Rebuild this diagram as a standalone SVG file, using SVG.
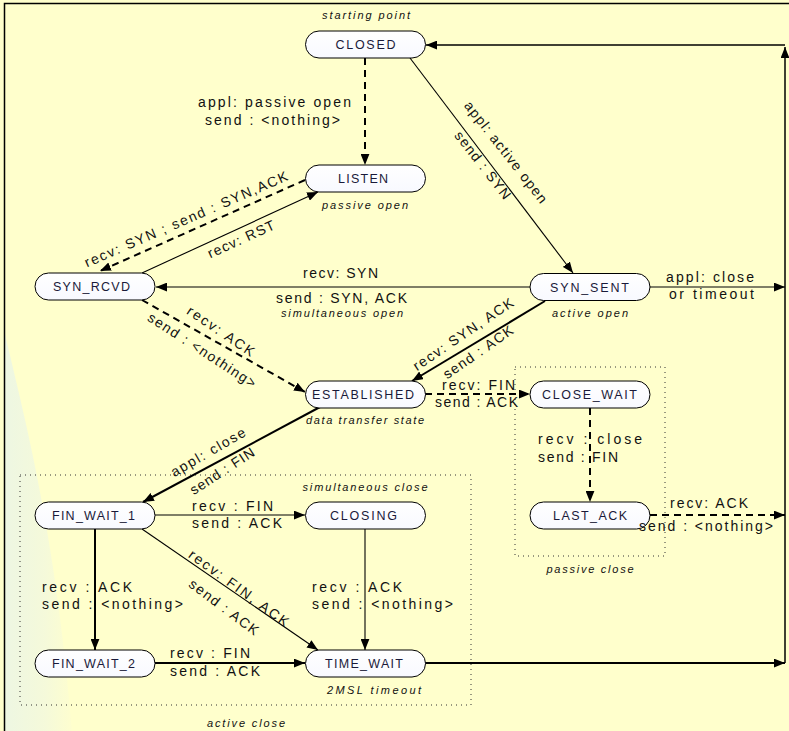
<svg xmlns="http://www.w3.org/2000/svg" width="789" height="731" viewBox="0 0 789 731">
<defs>
<marker id="ah" viewBox="0 0 10 8" refX="10" refY="4" markerWidth="11" markerHeight="9" markerUnits="userSpaceOnUse" orient="auto">
<path d="M0,0 L10,4 L0,8 z" fill="#000"/>
</marker>
<linearGradient id="bl" x1="0" y1="0" x2="1" y2="0">
<stop offset="0" stop-color="#E6F3EC"/>
<stop offset="0.6" stop-color="#F0F7E0"/>
<stop offset="1" stop-color="#FDFDD0"/>
</linearGradient>
<linearGradient id="pf" x1="0" y1="0" x2="0" y2="1">
<stop offset="0" stop-color="#FFFFFF"/>
<stop offset="1" stop-color="#F8F9FF"/>
</linearGradient>
</defs>
<style>
.node rect{fill:url(#pf);stroke:#000;stroke-width:1}
.node text{font-family:"Liberation Sans","DejaVu Sans",sans-serif;font-size:12.5px;fill:#1a1a3a;text-anchor:middle}
.lbl{font-family:"Liberation Sans","DejaVu Sans",sans-serif;font-size:14px;fill:#111}
.note{font-family:"Liberation Sans","DejaVu Sans",sans-serif;font-size:11px;font-style:italic;fill:#111;text-anchor:middle}
.c{fill:none;stroke:#000;marker-end:url(#ah)}
.thin{stroke-width:1.1}
.thick{stroke-width:2}
.dash{stroke-width:2;stroke-dasharray:7,5}
.box{fill:none;stroke:#333;stroke-width:1;stroke-dasharray:1,4}
</style>
<rect x="0" y="0" width="789" height="731" fill="#FFFFCC"/>
<path d="M4,330 C25,420 55,530 72,731 L4,731 Z" fill="url(#bl)" opacity="0.7"/>
<path d="M4.5,731 L4.5,3.5 L789,3.5" fill="none" stroke="#000" stroke-width="1.5"/>

<g id="boxes">
<rect class="box" x="20" y="475" width="451" height="230"/>
<rect class="box" x="515" y="367" width="150" height="189"/>
</g>

<g id="connectors">
<path class="c dash" d="M365,58 L365,165"/>
<path class="c thin" d="M410,58 L573,273"/>
<path class="c dash" d="M305,180 L100,271"/>
<path class="c thin" d="M142,273 L318,192"/>
<path class="c thin" d="M530,287 L156,287"/>
<path class="c dash" d="M142,300 L305,392"/>
<path class="c thick" d="M545,301 L412,381"/>
<path class="c dash" d="M425,394 L530,394"/>
<path class="c dash" d="M590,408 L590,502"/>
<path class="c dash" d="M650,515 L785,515"/>
<path class="c thin" d="M650,287 L785,287"/>
<path class="c" stroke-width="1.5" d="M785,663 L785,47"/>
<path class="c" stroke-width="1.3" d="M785,45 L426,45"/>
<path class="c thick" d="M320,407 L143,502"/>
<path class="c thin" d="M155,515 L305,515"/>
<path class="c thin" d="M142,529 L318,650"/>
<path class="c thick" d="M95,529 L95,650"/>
<path class="c thin" d="M365,529 L365,650"/>
<path class="c thick" d="M155,663 L305,663"/>
<path class="c thick" d="M425,663 L785,663"/>
</g>

<g id="CLOSED" class="node"><rect x="305.5" y="31" width="120" height="27" rx="13.5"/><text x="365.5" y="49" textLength="60">CLOSED</text></g>
<g id="LISTEN" class="node"><rect x="305.5" y="165" width="120" height="27" rx="13.5"/><text x="363" y="183" textLength="50">LISTEN</text></g>
<g id="SYN_RCVD" class="node"><rect x="35" y="273" width="120" height="27" rx="13.5"/><text x="91.5" y="291" textLength="77">SYN_RCVD</text></g>
<g id="SYN_SENT" class="node"><rect x="530" y="273.5" width="120" height="27" rx="13.5"/><text x="589.5" y="291.5" textLength="79">SYN_SENT</text></g>
<g id="ESTABLISHED" class="node"><rect x="305.5" y="381" width="120" height="27" rx="13.5"/><text x="363" y="399" textLength="102">ESTABLISHED</text></g>
<g id="CLOSE_WAIT" class="node"><rect x="530" y="381" width="120" height="27" rx="13.5"/><text x="589.5" y="399" textLength="95">CLOSE_WAIT</text></g>
<g id="LAST_ACK" class="node"><rect x="530" y="502" width="120" height="27" rx="13.5"/><text x="590" y="520" textLength="74">LAST_ACK</text></g>
<g id="FIN_WAIT_1" class="node"><rect x="35" y="502" width="120" height="27" rx="13.5"/><text x="93.5" y="520" textLength="83">FIN_WAIT_1</text></g>
<g id="CLOSING" class="node"><rect x="305.5" y="502" width="120" height="27" rx="13.5"/><text x="363.5" y="520" textLength="67">CLOSING</text></g>
<g id="FIN_WAIT_2" class="node"><rect x="35" y="650" width="120" height="27" rx="13.5"/><text x="93.5" y="668" textLength="83">FIN_WAIT_2</text></g>
<g id="TIME_WAIT" class="node"><rect x="305.5" y="650" width="120" height="27" rx="13.5"/><text x="364" y="668" textLength="78">TIME_WAIT</text></g>

<g id="notes">
<text class="note" x="366" y="19" textLength="88">starting point</text>
<text class="note" x="365" y="209" textLength="86">passive open</text>
<text class="note" x="342" y="317" textLength="122">simultaneous open</text>
<text class="note" x="590" y="317" textLength="76">active open</text>
<text class="note" x="365" y="424" textLength="118">data transfer state</text>
<text class="note" x="365" y="491" textLength="125">simultaneous close</text>
<text class="note" x="374" y="694" textLength="94">2MSL timeout</text>
<text class="note" x="246" y="727" textLength="78">active close</text>
<text class="note" x="590" y="573" textLength="87">passive close</text>
</g>

<g id="labels">
<text class="lbl" x="198" y="107" textLength="153">appl: passive open</text>
<text class="lbl" x="205" y="125" textLength="135">send : &lt;nothing&gt;</text>
<text class="lbl" text-anchor="middle" transform="translate(506,152) rotate(52)" y="5" textLength="125">appl: active open</text>
<text class="lbl" text-anchor="middle" transform="translate(483,165) rotate(52)" y="5" textLength="82">send : SYN</text>
<text class="lbl" text-anchor="middle" transform="translate(186,219) rotate(-23.5)" y="5" textLength="220">recv: SYN ; send : SYN,ACK</text>
<text class="lbl" text-anchor="middle" transform="translate(241,239) rotate(-24.5)" y="5" textLength="72">recv: RST</text>
<text class="lbl" x="303" y="278" textLength="75">recv: SYN</text>
<text class="lbl" x="276" y="303" textLength="131">send : SYN, ACK</text>
<text class="lbl" text-anchor="middle" transform="translate(221,331) rotate(34)" y="5" textLength="78">recv: ACK</text>
<text class="lbl" text-anchor="middle" transform="translate(202,350) rotate(33)" y="5" textLength="126">send : &lt;nothing&gt;</text>
<text class="lbl" text-anchor="middle" transform="translate(463,334) rotate(-34)" y="5" textLength="118">recv: SYN, ACK</text>
<text class="lbl" text-anchor="middle" transform="translate(478,352) rotate(-35)" y="5" textLength="82">send : ACK</text>
<text class="lbl" x="666" y="282" textLength="88">appl: close</text>
<text class="lbl" x="669" y="299" textLength="85">or timeout</text>
<text class="lbl" x="442" y="390" textLength="73">recv: FIN</text>
<text class="lbl" x="435" y="407" textLength="83">send : ACK</text>
<text class="lbl" x="538" y="444" textLength="104">recv : close</text>
<text class="lbl" x="538" y="462" textLength="80">send : FIN</text>
<text class="lbl" x="670" y="508" textLength="78">recv: ACK</text>
<text class="lbl" x="639" y="531" textLength="134">send : &lt;nothing&gt;</text>
<text class="lbl" text-anchor="middle" transform="translate(208,452) rotate(-30)" y="5" textLength="84">appl: close</text>
<text class="lbl" text-anchor="middle" transform="translate(222,471) rotate(-33)" y="5" textLength="74">send : FIN</text>
<text class="lbl" x="192" y="511" textLength="81">recv : FIN</text>
<text class="lbl" x="192" y="528" textLength="90">send : ACK</text>
<text class="lbl" text-anchor="middle" transform="translate(239,588) rotate(36)" y="5" textLength="120">recv: FIN, ACK</text>
<text class="lbl" text-anchor="middle" transform="translate(224,607) rotate(37)" y="5" textLength="83">send : ACK</text>
<text class="lbl" x="42" y="592" textLength="90">recv : ACK</text>
<text class="lbl" x="42" y="609" textLength="141">send : &lt;nothing&gt;</text>
<text class="lbl" x="312" y="592" textLength="90">recv : ACK</text>
<text class="lbl" x="312" y="609" textLength="141">send : &lt;nothing&gt;</text>
<text class="lbl" x="170" y="658" textLength="80">recv : FIN</text>
<text class="lbl" x="170" y="676" textLength="90">send : ACK</text>
</g>
</svg>
